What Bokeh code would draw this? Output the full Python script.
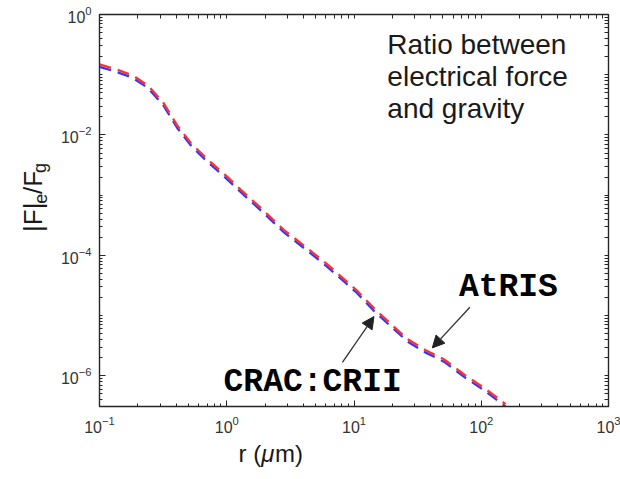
import math
from bokeh.plotting import figure
from bokeh.layouts import row, column
from bokeh.models import (FixedTicker, LogAxis, Label, Arrow, NormalHead)
from bokeh.embed import file_html
from bokeh.resources import INLINE

# ---- data ----
r_um = [0.100, 0.135, 0.182, 0.240, 0.316, 0.407, 0.525, 0.708, 0.955, 1.29,
        1.91, 2.82, 4.17, 6.17, 10.5, 14.5, 19.5, 26.3, 36.3, 51.3, 72.4, 105, 155]
ratio_atris = [0.148, 0.123, 0.0977, 0.0661, 0.0347, 0.0145, 7.24e-3, 3.89e-3,
               2.24e-3, 1.23e-3, 5.75e-4, 2.63e-4, 1.38e-4, 7.08e-5, 2.63e-5,
               1.29e-5, 7.24e-6, 4.07e-6, 2.69e-6, 1.86e-6, 1.07e-6, 6.31e-7, 3.39e-7]
ratio_crac = [0.135, 0.112, 0.0891, 0.0603, 0.0316, 0.0132, 6.61e-3, 3.55e-3,
              2.04e-3, 1.12e-3, 5.25e-4, 2.40e-4, 1.26e-4, 6.46e-5, 2.40e-5,
              1.17e-5, 6.61e-6, 3.72e-6, 2.45e-6, 1.70e-6, 9.77e-7, 5.75e-7, 3.09e-7]

x_major = [0.1, 1, 10, 100, 1000]
y_major = [1, 1e-2, 1e-4, 1e-6]
x_minor = [m * 10.0 ** k for k in range(-1, 3) for m in range(2, 10)]
y_minor = [10.0 ** k for k in (-1, -3, -5)] + \
          [m * 10.0 ** k for k in range(-7, 0) for m in range(2, 10)]

YMIN = 10 ** -6.51
FONT = "Liberation Sans"
MONO = "Liberation Mono"
AX = "#262626"
TXT = "#1a1a1a"

W, H = 620, 479
W_YL = 56          # strip holding the y-axis title
H_TOP = 440        # height of the row holding the plot
H_XL = H - H_TOP   # strip holding the x-axis title

p = figure(width=W - W_YL, height=H_TOP, x_axis_type="log", y_axis_type="log",
           x_range=(0.1, 1000), y_range=(YMIN, 1),
           output_backend="svg", toolbar_location=None,
           min_border_left=99 - W_YL, min_border_right=12, min_border_top=14,
           min_border_bottom=H_TOP - 406, background_fill_color="white",
           border_fill_color="white")
p.grid.visible = False
p.outline_line_color = AX
p.outline_line_width = 1.4

for ax, maj, mnr in ((p.xaxis[0], x_major, x_minor), (p.yaxis[0], y_major, y_minor)):
    ax.ticker = FixedTicker(ticks=maj, minor_ticks=mnr)
    ax.major_tick_in = 6
    ax.major_tick_out = 0
    ax.minor_tick_in = 3
    ax.minor_tick_out = 0
    ax.axis_line_color = AX
    ax.major_tick_line_color = AX
    ax.minor_tick_line_color = AX
    ax.major_label_text_font = FONT
    ax.major_label_text_font_size = "16px"
    ax.major_label_text_color = "#333333"
p.xaxis[0].major_label_standoff = 9
p.yaxis[0].major_label_standoff = 8

right = LogAxis(ticker=FixedTicker(ticks=[], minor_ticks=y_major + y_minor))
top = LogAxis(ticker=FixedTicker(ticks=[], minor_ticks=x_major + x_minor))
for ax in (right, top):
    ax.minor_tick_in = 4
    ax.minor_tick_out = 0
    ax.major_tick_out = 0
    ax.axis_line_color = AX
    ax.minor_tick_line_color = AX
p.add_layout(right, "right")
p.add_layout(top, "above")

p.line(r_um, ratio_crac, line_color="#3535ff", line_width=2.3, line_dash="12 7")
p.line(r_um, ratio_atris, line_color="#ff3030", line_width=2.3, line_dash="12 7")

def lx(px):
    return 10 ** (-1 + (px - 98.5) / 127.4)

def ly(py):
    return 10 ** (-(py - 14) / 60.2)

for txt, py in (("Ratio between", 44), ("electrical force", 76), ("and gravity", 108)):
    p.add_layout(Label(x=lx(386.7), y=ly(py), text=txt, text_font=FONT,
                       text_font_size="28px", text_color=TXT,
                       text_align="left", text_baseline="alphabetic"))

p.add_layout(Label(x=lx(458.3), y=ly(287), text="AtRIS", text_font=MONO,
                   text_font_size="33px", text_font_style="bold", text_color="black",
                   text_align="left", text_baseline="alphabetic"))
p.add_layout(Label(x=lx(222.7), y=ly(382), text="CRAC:CRII", text_font=MONO,
                   text_font_size="33px", text_font_style="bold", text_color="black",
                   text_align="left", text_baseline="alphabetic"))

for (xs, ys, xe, ye) in ((341.7, 361.7, 373.3, 316.0), (469.3, 306.7, 431.7, 347.3)):
    p.add_layout(Arrow(x_start=lx(xs), y_start=ly(ys), x_end=lx(xe), y_end=ly(ye),
                       line_color="#333333", line_width=1.3,
                       end=NormalHead(size=12, fill_color="#222222",
                                      line_color="#222222", line_width=1)))

def strip(w, h):
    f = figure(width=w, height=h, x_range=(0, w), y_range=(0, h),
               x_axis_type=None, y_axis_type=None, output_backend="svg",
               toolbar_location=None, min_border=0,
               background_fill_color="white", border_fill_color="white")
    f.grid.visible = False
    f.outline_line_color = None
    return f

# y-axis title |F|_e / F_g (rotated, pixel coordinates of the strip)
yl = strip(W_YL, H_TOP)
for txt, size, bx, by in (("|F|", "26px", 32.5, 196), ("e", "18px", 39.5, 227.5),
                          ("/F", "26px", 32.5, 238.5), ("g", "18px", 39.5, 262)):
    yl.add_layout(Label(x=bx, y=by, text=txt, angle=math.pi / 2, text_font=FONT,
                        text_font_size=size, text_color=TXT, text_align="left",
                        text_baseline="alphabetic"))

# x-axis title r (μm)
xl = strip(W, H_XL)
for txt, style, bx in (("r (", "normal", 238), ("μ", "italic", 260.7), ("m)", "normal", 274.5)):
    xl.add_layout(Label(x=bx, y=H - 452.9, text=txt, text_font=FONT,
                        text_font_size="24px", text_font_style=style,
                        text_color=TXT, text_align="left", text_baseline="alphabetic"))

layout = column(row(yl, p, spacing=0), xl, spacing=0)
open("out.html", "w").write(file_html(layout, INLINE))
